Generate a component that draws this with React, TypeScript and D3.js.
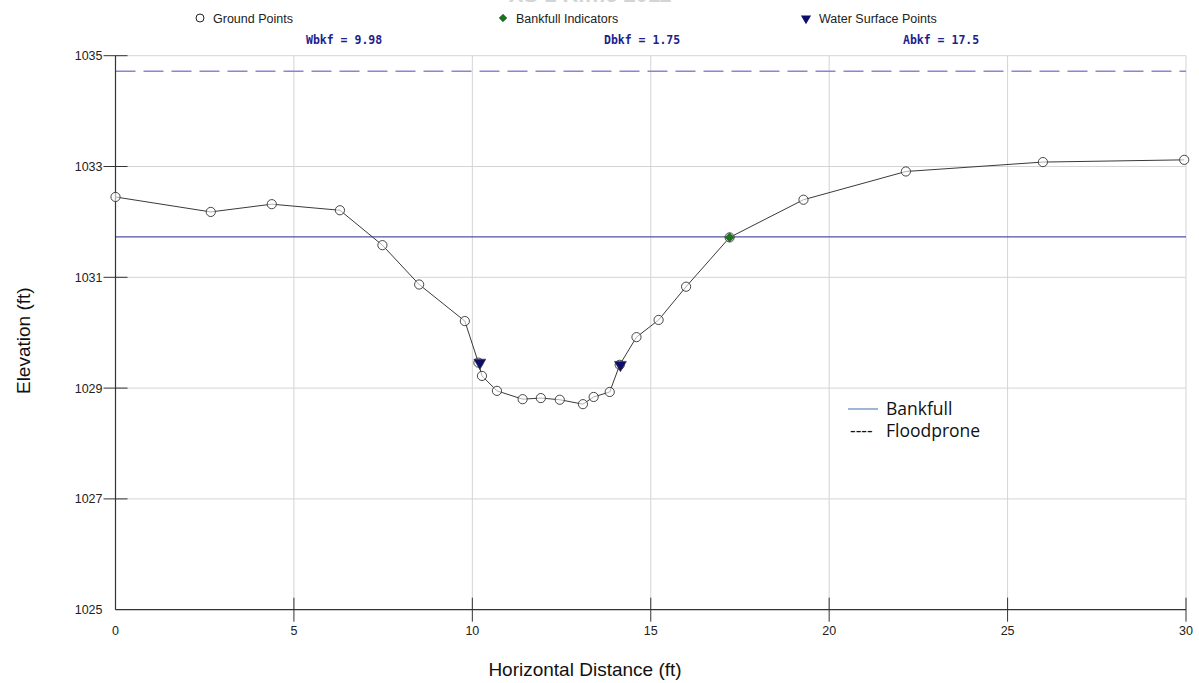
import React from "react";
import * as d3 from "d3";

const groundX = [0, 2.67, 4.38, 6.29, 7.48, 8.51, 9.79, 10.17, 10.27, 10.69, 11.41, 11.92, 12.45, 13.1, 13.4, 13.85, 14.13, 14.6, 15.22, 15.99, 17.21, 19.28, 22.15, 25.99, 29.95];
const groundY = [1032.45, 1032.18, 1032.32, 1032.21, 1031.58, 1030.87, 1030.21, 1029.46, 1029.22, 1028.95, 1028.8, 1028.82, 1028.79, 1028.71, 1028.84, 1028.93, 1029.42, 1029.92, 1030.23, 1030.83, 1031.72, 1032.4, 1032.91, 1033.08, 1033.12];
const bankfullX = [17.21];
const bankfullY = [1031.72];
const waterX = [10.21, 14.15];
const waterY = [1029.46, 1029.42];
const bankfullElev = 1031.73;
const floodproneElev = 1034.72;
const xTicks = [0, 5, 10, 15, 20, 25, 30];
const yTicks = [1025, 1027, 1029, 1031, 1033, 1035];
const statLabels = ["Wbkf = 9.98", "Dbkf = 1.75", "Abkf = 17.5"];
const legendLabels = ["Ground Points", "Bankfull Indicators", "Water Surface Points"];

export default function App() {
  const W = 1199, H = 683;
  const left = 115.5, right = 1186, top = 55.7, bottom = 609.7;
  const x = d3.scaleLinear().domain([0, 30]).range([left, right]);
  const y = d3.scaleLinear().domain([1025, 1035]).range([bottom, top]);
  const line = d3.line<number>().x((_, i) => x(groundX[i])).y((_, i) => y(groundY[i]));
  const tri = d3.symbol().type(d3.symbolTriangle).size(62)()!;
  const dia = d3.symbol().type(d3.symbolSquare).size(40)()!;
  const sans = "'Liberation Sans', Arial, sans-serif";
  const mono = "'DejaVu Sans Mono', 'Liberation Mono', monospace";
  const gridX = xTicks.filter((t) => t > 0);
  const gridY = yTicks.filter((t) => t > 1025);
  const statX = [306, 604, 903];
  const legX = [200, 503, 806];
  return (
    <svg width={W} height={H} style={{ position: "absolute", left: 0, top: 0, background: "#fff" }}>
      <rect x={0} y={0} width={W} height={H} fill="#fff" />
      <text x={590} y={2} textAnchor="middle" fontFamily={sans} fontWeight="bold" fontSize={22} fill="#d4d4d4">XS 1 Riffle 2011</text>
      {/* gridlines */}
      {gridX.map((t) => (
        <line key={"gx" + t} x1={x(t)} x2={x(t)} y1={top} y2={bottom} stroke="#d4d4d4" strokeWidth={1} />
      ))}
      {gridY.map((t) => (
        <line key={"gy" + t} x1={left} x2={right} y1={y(t)} y2={y(t)} stroke="#d4d4d4" strokeWidth={1} />
      ))}
      {/* bankfull and floodprone */}
      <line x1={left} x2={right} y1={y(bankfullElev)} y2={y(bankfullElev)} stroke="#5252a6" strokeWidth={1.3} />
      <line x1={left} x2={right} y1={y(floodproneElev)} y2={y(floodproneElev)} stroke="#8a84d6" strokeWidth={1.5} strokeDasharray="20 8" />
      {/* axes */}
      <line x1={left} x2={left} y1={top} y2={bottom} stroke="#333" strokeWidth={1.2} />
      <line x1={left} x2={right} y1={bottom} y2={bottom} stroke="#333" strokeWidth={1.2} />
      {yTicks.map((t) => (
        <g key={"yt" + t}>
          {t > 1025 && <line x1={left - 12} x2={left + 12} y1={y(t)} y2={y(t)} stroke="#333" strokeWidth={1} />}
          <text x={left - 13} y={y(t) + 4.5} textAnchor="end" fontFamily={sans} fontSize={12.5} fill="#222">{t}</text>
        </g>
      ))}
      {xTicks.map((t) => (
        <g key={"xt" + t}>
          {t > 0 && <line x1={x(t)} x2={x(t)} y1={bottom - 12} y2={bottom + 12} stroke="#333" strokeWidth={1} />}
          <text x={x(t)} y={bottom + 25} textAnchor="middle" fontFamily={sans} fontSize={12.5} fill="#222">{t}</text>
        </g>
      ))}
      {/* ground line and points */}
      <path d={line(groundX) || ""} fill="none" stroke="#3a3a3a" strokeWidth={1} />
      {groundX.map((gx, i) => (
        <circle key={"gp" + i} cx={x(gx)} cy={y(groundY[i])} r={4.6} fill="#fff" fillOpacity={0.6} stroke="#333" strokeWidth={0.9} />
      ))}
      {waterX.map((wx, i) => (
        <path key={"wp" + i} d={tri} transform={`translate(${x(wx)},${y(waterY[i])}) rotate(180)`} fill="#0d0d6e" stroke="#333" strokeWidth={0.6} />
      ))}
      {bankfullX.map((bx, i) => (
        <path key={"bp" + i} d={dia} transform={`translate(${x(bx)},${y(bankfullY[i])}) rotate(45)`} fill="#137a13" stroke="#333" strokeWidth={0.6} />
      ))}
      {/* top legend */}
      <circle cx={legX[0]} cy={18} r={4} fill="#fff" stroke="#222" strokeWidth={1} />
      <path d={dia} transform={`translate(${legX[1]},18) rotate(45) scale(0.85)`} fill="#137a13" stroke="#222" strokeWidth={0.6} />
      <path d={tri} transform={`translate(${legX[2]},18.5) rotate(180) scale(0.85)`} fill="#0d0d6e" />
      {legendLabels.map((l, i) => (
        <text key={"lg" + i} x={legX[i] + 13} y={22.5} fontFamily={sans} fontSize={12.5} fill="#222">{l}</text>
      ))}
      {statLabels.map((s, i) => (
        <text key={"st" + i} x={statX[i]} y={44} fontFamily={mono} fontWeight="bold" fontSize={11.5} fill="#1e1e8e" xmlSpace="preserve">{s}</text>
      ))}
      {/* bottom-right legend */}
      <line x1={848} x2={878} y1={409} y2={409} stroke="#5f88b8" strokeWidth={1.2} />
      <text x={886} y={415} fontFamily="'Open Sans', 'Noto Sans', sans-serif" fontSize={17.5} fill="#111">Bankfull</text>
      <text x={850} y={437} fontFamily="'Open Sans', 'Noto Sans', sans-serif" fontSize={17.5} fill="#111">----</text>
      <text x={886} y={437} fontFamily="'Open Sans', 'Noto Sans', sans-serif" fontSize={17.5} fill="#111">Floodprone</text>
      {/* axis titles */}
      <text x={585} y={676} textAnchor="middle" fontFamily={sans} fontSize={19} fill="#111">Horizontal Distance (ft)</text>
      <text transform={`translate(30,${(top + bottom) / 2 + 8}) rotate(-90)`} textAnchor="middle" fontFamily={sans} fontSize={19} fill="#111">Elevation (ft)</text>
    </svg>
  );
}
